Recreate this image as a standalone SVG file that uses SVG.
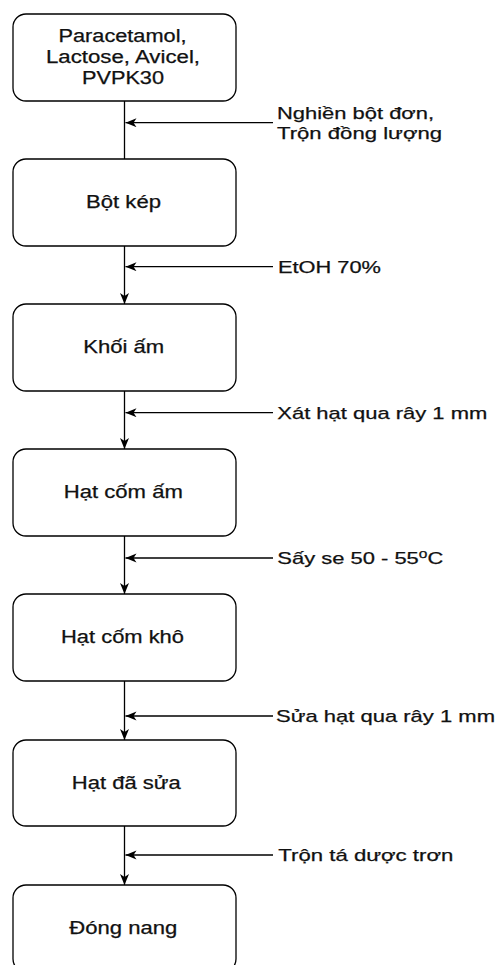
<svg xmlns="http://www.w3.org/2000/svg" width="498" height="965" viewBox="0 0 498 965">
<style>
.box{fill:#fff;stroke:#000;stroke-width:1.3}
.t{font-family:"Liberation Sans",Arial,sans-serif;font-size:17.5px;fill:#111;stroke:#111;stroke-width:0.25;text-anchor:middle}
.s{font-family:"Liberation Sans",Arial,sans-serif;font-size:17px;fill:#111;stroke:#111;stroke-width:0.25}
.c{fill:none;stroke:#000;stroke-width:1.3}
</style>
<defs>
<marker id="arr" markerWidth="12" markerHeight="10" refX="11" refY="4.5" orient="auto" markerUnits="userSpaceOnUse">
<path d="M0,0 L11,4.5 L0,9 L3,4.5 Z" fill="#000"/>
</marker>
</defs>
<rect width="498" height="965" fill="#fff"/>
<g id="connectors">
<line class="c" x1="124.5" y1="101" x2="124.5" y2="159"/>
<line class="c" x1="124.5" y1="246" x2="124.5" y2="304" marker-end="url(#arr)"/>
<line class="c" x1="124.5" y1="391" x2="124.5" y2="449" marker-end="url(#arr)"/>
<line class="c" x1="124.5" y1="536" x2="124.5" y2="594" marker-end="url(#arr)"/>
<line class="c" x1="124.5" y1="681" x2="124.5" y2="740" marker-end="url(#arr)"/>
<line class="c" x1="124.5" y1="826" x2="124.5" y2="885" marker-end="url(#arr)"/>
<line class="c" x1="273" y1="122.7" x2="125.5" y2="122.7" marker-end="url(#arr)"/>
<line class="c" x1="273" y1="266.7" x2="125.5" y2="266.7" marker-end="url(#arr)"/>
<line class="c" x1="273" y1="412.7" x2="125.5" y2="412.7" marker-end="url(#arr)"/>
<line class="c" x1="273" y1="558" x2="125.5" y2="558" marker-end="url(#arr)"/>
<line class="c" x1="273" y1="716" x2="125.5" y2="716" marker-end="url(#arr)"/>
<line class="c" x1="273" y1="855" x2="125.5" y2="855" marker-end="url(#arr)"/>
</g>
<g id="labels">
<text class="s" x="277" y="118.5" textLength="157" lengthAdjust="spacingAndGlyphs">Nghiền bột đơn,</text>
<text class="s" x="277" y="138.5" textLength="165" lengthAdjust="spacingAndGlyphs">Trộn đồng lượng</text>
<text class="s" x="278" y="272.7" textLength="103" lengthAdjust="spacingAndGlyphs">EtOH 70%</text>
<text class="s" x="277.3" y="418.7" textLength="210" lengthAdjust="spacingAndGlyphs">Xát hạt qua rây 1 mm</text>
<text class="s" x="277.3" y="564" textLength="166" lengthAdjust="spacingAndGlyphs">Sấy se 50 - 55<tspan font-size="12" dy="-6">o</tspan><tspan dy="6">C</tspan></text>
<text class="s" x="276" y="722" textLength="219" lengthAdjust="spacingAndGlyphs">Sửa hạt qua rây 1 mm</text>
<text class="s" x="278.3" y="861" textLength="175" lengthAdjust="spacingAndGlyphs">Trộn tá dược trơn</text>
</g>
<g id="n1">
<rect class="box" x="13" y="14" width="223" height="87" rx="13"/>
<text class="t" x="122.5" y="42" textLength="128" lengthAdjust="spacingAndGlyphs">Paracetamol,</text>
<text class="t" x="123" y="63" textLength="154" lengthAdjust="spacingAndGlyphs">Lactose, Avicel,</text>
<text class="t" x="123" y="84" textLength="82" lengthAdjust="spacingAndGlyphs">PVPK30</text>
</g>
<g id="n2">
<rect class="box" x="13" y="159" width="223" height="87" rx="13"/>
<text class="t" x="123.5" y="208" textLength="75" lengthAdjust="spacingAndGlyphs">Bột kép</text>
</g>
<g id="n3">
<rect class="box" x="13" y="304" width="223" height="87" rx="13"/>
<text class="t" x="123.7" y="353" textLength="81" lengthAdjust="spacingAndGlyphs">Khối ấm</text>
</g>
<g id="n4">
<rect class="box" x="13" y="449" width="223" height="87" rx="13"/>
<text class="t" x="123.3" y="498" textLength="119" lengthAdjust="spacingAndGlyphs">Hạt cốm ấm</text>
</g>
<g id="n5">
<rect class="box" x="13" y="594" width="223" height="87" rx="13"/>
<text class="t" x="122.5" y="643" textLength="123" lengthAdjust="spacingAndGlyphs">Hạt cốm khô</text>
</g>
<g id="n6">
<rect class="box" x="13" y="740" width="223" height="86" rx="13"/>
<text class="t" x="126.3" y="788.5" textLength="109" lengthAdjust="spacingAndGlyphs">Hạt đã sửa</text>
</g>
<g id="n7">
<rect class="box" x="13" y="885" width="223" height="87" rx="13"/>
<text class="t" x="123.3" y="933.5" textLength="108" lengthAdjust="spacingAndGlyphs">Đóng nang</text>
</g>
</svg>
